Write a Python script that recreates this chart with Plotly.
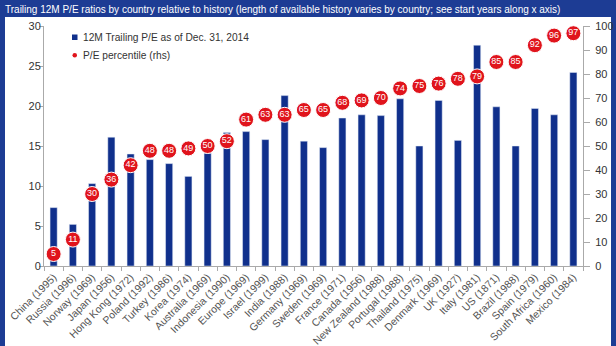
import plotly.graph_objects as go

countries = ["China (1995)", "Russia (1996)", "Norway (1969)", "Japan (1956)", "Hong Kong (1972)",
             "Poland (1992)", "Turkey (1986)", "Korea (1974)", "Australia (1969)", "Indonesia (1990)",
             "Europe (1969)", "Israel (1999)", "India (1988)", "Germany (1969)", "Sweden (1969)",
             "France (1971)", "Canada (1956)", "New Zealand (1988)", "Portugal (1988)", "Thailand (1975)",
             "Denmark (1969)", "UK (1927)", "Italy (1981)", "US (1871)", "Brazil (1988)",
             "Spain (1979)", "South Africa (1960)", "Mexico (1984)"]
pe = [7.3, 5.2, 10.3, 16.1, 14.0, 13.3, 12.8, 11.2, 14.1, 16.7,
      16.8, 15.8, 21.3, 15.6, 14.8, 18.5, 18.9, 18.8, 20.9, 15.0,
      20.7, 15.7, 27.6, 19.9, 15.0, 19.7, 18.9, 24.2]
pct = [5, 11, 30, 36, 42, 48, 48, 49, 50, 52,
       61, 63, 63, 65, 65, 68, 69, 70, 74, 75,
       76, 78, 79, 85, 85, 92, 96, 97]
left_ticks = [0, 5, 10, 15, 20, 25, 30]
right_ticks = [0, 10, 20, 30, 40, 50, 60, 70, 80, 90, 100]
bar_name = "12M Trailing P/E as of Dec. 31, 2014"
pct_name = "P/E percentile (rhs)"
subtitle = ("Trailing 12M P/E ratios by country relative to history (length of available "
            "history varies by country; see start years along x axis)")

BLUE = "#10308c"
BAND = "#1d3c94"
RED = "#e0141c"
GRAY = "#aaaaaa"
FONT = "Arial"

W, H = 616, 346
L, R, T, B = 44, 33, 26, 80
PW, PH = W - L - R, H - T - B


def px(x):
    return (x - L) / PW


def py(y):
    return (H - B - y) / PH


fig = go.Figure()
fig.add_trace(go.Bar(x=countries, y=pe, marker_color=BLUE, width=0.37,
                     name=bar_name, showlegend=False))
fig.add_trace(go.Scatter(x=countries, y=pct, yaxis="y2", mode="markers+text",
                         text=[str(v) for v in pct], textposition="middle center",
                         textfont=dict(color="white", size=9, family=FONT),
                         marker=dict(color=RED, size=15, line=dict(color="white", width=1)),
                         cliponaxis=False, showlegend=False, name=pct_name))

fig.update_layout(
    width=W, height=H,
    margin=dict(l=L, r=R, t=T, b=B, autoexpand=False),
    paper_bgcolor="white", plot_bgcolor="white",
    font=dict(family=FONT, color="#333333", size=10),
    showlegend=False,
    xaxis=dict(range=[-0.5, len(countries) - 0.5], autorange=False,
               showline=True, linecolor=GRAY, ticks="outside", tickson="boundaries",
               tickcolor=GRAY, ticklen=4, tickangle=-45, tickfont=dict(size=10.5, color="#555"),
               showgrid=False, automargin=False),
    yaxis=dict(range=[0, 30], tickvals=left_ticks, showline=True, linecolor=GRAY,
               ticks="outside", tickcolor=GRAY, ticklen=4, showgrid=False, zeroline=False,
               tickfont=dict(size=11, color="#333"), automargin=False, ticklabelstandoff=-4),
    yaxis2=dict(range=[0, 100], tickvals=right_ticks, overlaying="y", side="right",
                showline=True, linecolor=GRAY, ticks="outside", tickcolor=GRAY, ticklen=6,
                showgrid=False, zeroline=False, tickfont=dict(size=11, color="#333"),
                automargin=False, ticklabelstandoff=3),
    shapes=[
        dict(type="rect", xref="paper", yref="paper", x0=px(0), x1=px(W),
             y0=py(17), y1=py(0), fillcolor=BAND, line_width=0, layer="below"),
        dict(type="rect", xref="paper", yref="paper", x0=px(0), x1=px(5),
             y0=py(H), y1=py(0), fillcolor=BAND, line_width=0, layer="below"),
        dict(type="rect", xref="paper", yref="paper", x0=px(611), x1=px(W),
             y0=py(H), y1=py(0), fillcolor=BAND, line_width=0, layer="below"),
        # legend swatches
        dict(type="rect", xref="paper", yref="paper", x0=px(72), x1=px(77.5),
             y0=py(40), y1=py(34.5), fillcolor=BLUE, line_width=0),
        dict(type="circle", xref="paper", yref="paper", x0=px(72.5), x1=px(77),
             y0=py(57.5), y1=py(53), fillcolor=RED, line_width=0),
    ],
    annotations=[
        dict(text=subtitle, xref="paper", yref="paper", x=px(3), y=py(9.5),
             xanchor="left", yanchor="middle", showarrow=False,
             font=dict(color="white", size=10, family=FONT)),
        dict(text=bar_name, xref="paper", yref="paper", x=px(81), y=py(37.2),
             xanchor="left", yanchor="middle", showarrow=False,
             font=dict(color="#333", size=10.2, family=FONT)),
        dict(text=pct_name, xref="paper", yref="paper", x=px(81), y=py(55.2),
             xanchor="left", yanchor="middle", showarrow=False,
             font=dict(color="#333", size=10.2, family=FONT)),
    ],
)
fig.write_html("out.html")
